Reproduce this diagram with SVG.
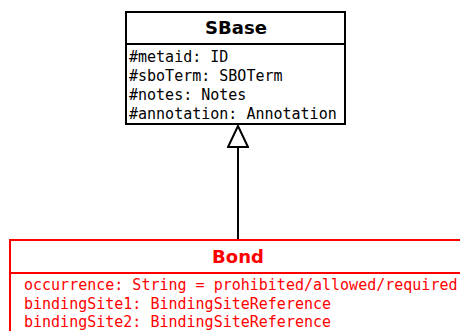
<svg xmlns="http://www.w3.org/2000/svg" width="460" height="331" viewBox="0 0 460 331">
  <style>
    .box { fill: #ffffff; stroke-width: 2; }
    .title { font-family: "DejaVu Sans", sans-serif; font-weight: bold; font-size: 18px; text-anchor: middle; }
    .attr { font-family: "DejaVu Sans Mono", monospace; font-size: 15px; }
    .black { stroke: #000000; }
    .red { stroke: #ff0000; }
  </style>
  <defs>
    <!-- hollow generalization triangle, tip along the path direction -->
    <marker id="inherit" markerWidth="25" markerHeight="22" refX="23" refY="11" orient="auto" markerUnits="userSpaceOnUse" viewBox="0 0 25 22">
      <path d="M23 11 L2 1 L2 21 Z" fill="#ffffff" stroke="#000000" stroke-width="2" stroke-linejoin="miter"/>
    </marker>
  </defs>

  <g id="connectors">
    <line x1="238" y1="240" x2="238" y2="126" stroke="#000000" stroke-width="2" marker-end="url(#inherit)"/>
  </g>

  <g id="SBase">
    <rect class="box black" x="126" y="12" width="219" height="112"/>
    <line class="black" x1="126" y1="44" x2="345" y2="44" stroke-width="2"/>
    <text class="title" x="236" y="34" fill="#000000">SBase</text>
    <text class="attr" x="129" y="62" fill="#000000">#metaid: ID</text>
    <text class="attr" x="129" y="81" fill="#000000">#sboTerm: SBOTerm</text>
    <text class="attr" x="129" y="100" fill="#000000">#notes: Notes</text>
    <text class="attr" x="129" y="119" fill="#000000">#annotation: Annotation</text>
  </g>

  <g id="Bond">
    <rect class="box red" x="10" y="240" width="470" height="110"/>
    <line class="red" x1="10" y1="273" x2="480" y2="273" stroke-width="2"/>
    <text class="title" x="238" y="263" fill="#ff0000">Bond</text>
    <text class="attr" x="24" y="290" fill="#ff0000">occurrence: String = prohibited/allowed/required</text>
    <text class="attr" x="24" y="309" fill="#ff0000">bindingSite1: BindingSiteReference</text>
    <text class="attr" x="24" y="327" fill="#ff0000">bindingSite2: BindingSiteReference</text>
  </g>
</svg>
